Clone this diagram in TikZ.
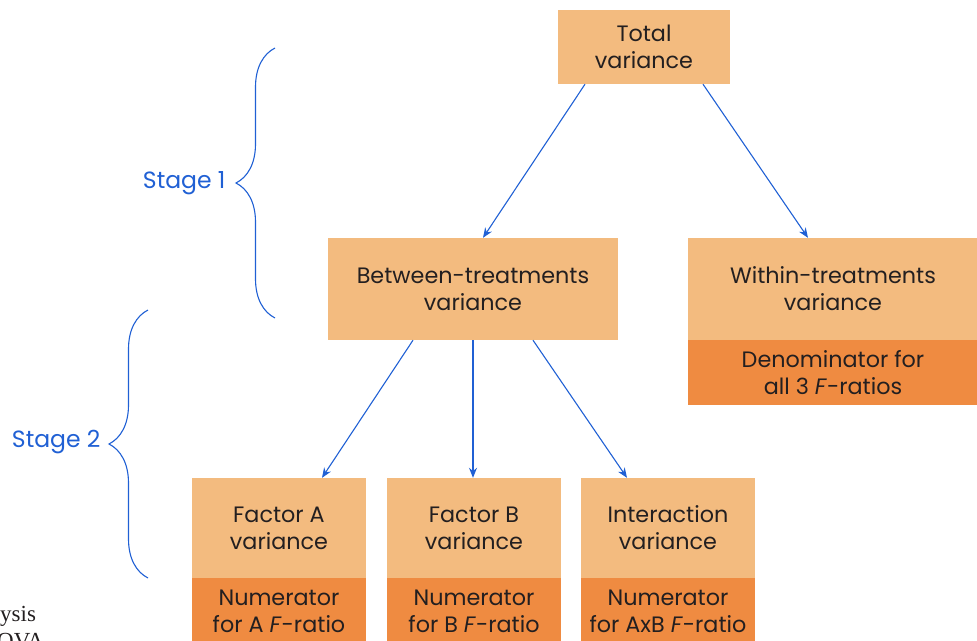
\documentclass[tikz,border=0pt]{standalone}
\usepackage{fontspec}
\setmainfont{Poppins}
\newfontfamily\pagefont{Liberation Serif}
\usetikzlibrary{arrows.meta,decorations.pathreplacing}

\definecolor{lightorange}{RGB}{243,187,127}
\definecolor{darkorange}{RGB}{239,139,65}
\definecolor{stageblue}{RGB}{32,96,212}
\definecolor{boxtext}{RGB}{35,31,32}

\begin{document}
\begin{tikzpicture}[x=1pt, y=-1pt,
	varbox/.style={fill=lightorange, text=boxtext, minimum width=174pt, minimum height=100pt,
		inner sep=0pt, align=center, font=\fontsize{22.3}{27}\selectfont},
	ratiobox/.style={varbox, fill=darkorange, minimum height=65pt},
	link/.style={stageblue, line width=1.1pt, -{Stealth[length=10pt, width=8pt]}},
	stagebrace/.style={stageblue, line width=1.1pt, decorate, decoration={brace, amplitude=39pt}},
	stagelabel/.style={stageblue, anchor=east, font=\fontsize{23.5}{27}\selectfont}]
	\useasboundingbox (0,0) rectangle (977,640);
	\clip (0,0) rectangle (977,640);

	% boxes
	\node[varbox, minimum width=172pt, minimum height=74pt] (total) at (644,47) {Total\\variance};
	\node[varbox, minimum width=290pt, minimum height=102pt] (between) at (473,289) {Between-treatments\\variance};
	\node[varbox, minimum width=290pt, minimum height=102pt] (within) at (833,289) {Within-treatments\\variance};
	\node[ratiobox, minimum width=290pt, anchor=north] (denom) at (within.south) {Denominator for\\all 3 \emph{F}-ratios};

	\node[varbox] (factorA) at (279,528) {Factor A\\variance};
	\node[varbox] (factorB) at (474,528) {Factor B\\variance};
	\node[varbox] (inter) at (668,528) {Interaction\\variance};
	\node[ratiobox, anchor=north] (numA) at (factorA.south) {Numerator\\for A \emph{F}-ratio};
	\node[ratiobox, anchor=north] (numB) at (factorB.south) {Numerator\\for B \emph{F}-ratio};
	\node[ratiobox, anchor=north] (numI) at (inter.south) {Numerator\\for AxB \emph{F}-ratio};

	% arrows
	\draw[link] ([xshift=-59pt]total.south) -- ([xshift=10pt]between.north);
	\draw[link] ([xshift=59pt]total.south) -- ([xshift=-25pt]within.north);
	\draw[link] ([xshift=-60pt]between.south) -- ([xshift=43pt]factorA.north);
	\draw[link] (between.south) -- ([xshift=-1pt]factorB.north);
	\draw[link] ([xshift=60pt]between.south) -- ([xshift=-41pt]inter.north);

	% stages
	\draw[stagebrace] (275,318) -- (275,48);
	\draw[stagebrace] (148,578) -- (148,310);
	\node[stagelabel] (stage1) at (229,183) {Stage 1};
	\node[stagelabel] (stage2) at (104,442) {Stage 2};

	% text of the page
	\node[anchor=base west, inner sep=0pt, font=\pagefont\fontsize{23}{26}\selectfont, text=boxtext] (pageA) at (0,621) {ysis};
	\node[anchor=base west, inner sep=0pt, font=\pagefont\fontsize{23}{26}\selectfont, text=boxtext] (pageB) at (-3,648) {OVA};
\end{tikzpicture}
\end{document}
